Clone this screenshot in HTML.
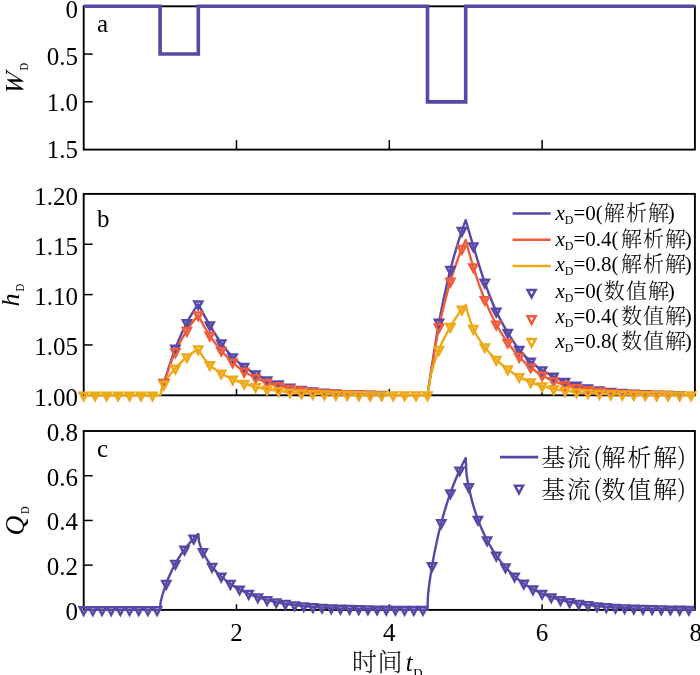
<!DOCTYPE html>
<html lang="zh"><head><meta charset="utf-8"><title>chart</title>
<style>html,body{margin:0;padding:0;background:#fff}svg{display:block}text{font-family:"Liberation Serif","Noto Serif CJK SC",serif;fill:#000}.tk{font-size:25px;text-anchor:end}.xt{font-size:25px;text-anchor:middle}.yl{font-size:26px;font-style:italic}.sub{font-size:14px;font-style:normal}.sd{font-size:13.5px}.lg{font-size:21px}.cj{font-size:21px;letter-spacing:1.1px;font-weight:300}.lc{font-size:24px}.cc{font-weight:300}.pp{font-family:"Noto Serif CJK SC",serif;font-weight:300}.pl{font-size:25px}</style></head><body>
<svg width="700" height="675" viewBox="0 0 700 675">
<rect width="700" height="675" fill="#fff"/>
<g stroke="#000" stroke-width="1.9" fill="none" stroke-linecap="square">
<rect x="83.7" y="6.3" width="611.2" height="143.3"/>
</g>
<g stroke="#000" stroke-width="1.5" fill="none">
<line x1="236.5" y1="149.6" x2="236.5" y2="140.1"/>
<line x1="389.3" y1="149.6" x2="389.3" y2="140.1"/>
<line x1="542.1" y1="149.6" x2="542.1" y2="140.1"/>
<line x1="83.7" y1="54.07" x2="92.7" y2="54.07"/>
<line x1="83.7" y1="101.83" x2="92.7" y2="101.83"/>
</g>
<path d="M83.7 6.3 L160.1 6.3 L160.1 54.07 L198.3 54.07 L198.3 6.3 L427.5 6.3 L427.5 101.83 L465.7 101.83 L465.7 6.3 L694.9 6.3" fill="none" stroke="#5848a6" stroke-width="3.6" stroke-linejoin="miter"/>
<text class="tk" x="78" y="17.85">0</text>
<text class="tk" x="78" y="64.75">0.5</text>
<text class="tk" x="78" y="110.95">1.0</text>
<text class="tk" x="78" y="158.15">1.5</text>
<text class="pl" x="97" y="32">a</text>
<text class="yl" transform="translate(23.1 95.2) rotate(-90) skewX(-9)">W</text>
<text class="sd" transform="translate(28.4 70.5) rotate(-90) scale(0.78 1)">D</text>
<g stroke="#000" stroke-width="1.9" fill="none" stroke-linecap="square">
<rect x="83.7" y="193.9" width="611.2" height="201.4"/>
</g>
<g stroke="#000" stroke-width="1.5" fill="none">
<line x1="236.5" y1="395.3" x2="236.5" y2="388.9"/>
<line x1="389.3" y1="395.3" x2="389.3" y2="388.9"/>
<line x1="542.1" y1="395.3" x2="542.1" y2="388.9"/>
<line x1="83.7" y1="244.25" x2="92.7" y2="244.25"/>
<line x1="83.7" y1="294.6" x2="92.7" y2="294.6"/>
<line x1="83.7" y1="344.95" x2="92.7" y2="344.95"/>
</g>
<path d="M161.63 390.17 L162.01 388.9 L162.39 387.64 L162.77 386.39 L163.16 385.15 L163.54 383.93 L163.92 382.71 L164.3 381.5 L164.68 380.3 L165.07 379.08 L165.45 377.87 L165.83 376.66 L166.21 375.46 L166.59 374.25 L166.98 373.04 L167.36 371.84 L167.74 370.65 L169.27 365.9 L170.8 361.28 L172.32 356.8 L173.85 352.52 L175.38 348.47 L176.91 344.62 L178.44 340.89 L179.96 337.28 L181.49 333.81 L183.02 330.48 L184.55 327.29 L186.08 324.26 L187.6 321.37 L189.13 318.58 L190.66 315.89 L192.19 313.3 L193.72 310.83 L195.24 308.47 L196.77 306.25 L198.3 304.17 L199.06 305.64 L199.83 307.11 L200.59 308.56 L201.36 310.01 L202.12 311.44 L202.88 312.86 L203.65 314.27 L204.41 315.67 L205.18 317.06 L205.94 318.44 L207.47 321.15 L209 323.8 L210.52 326.41 L212.05 328.98 L213.58 331.51 L215.11 333.99 L216.64 336.4 L218.16 338.73 L219.69 340.98 L221.22 343.14 L222.75 345.22 L224.28 347.26 L225.8 349.22 L227.33 351.12 L228.86 352.92 L230.39 354.64 L231.92 356.26 L233.44 357.78 L234.97 359.21 L236.5 360.56 L238.03 361.85 L239.56 363.08 L241.08 364.28 L242.61 365.45 L244.14 366.6 L245.67 367.73 L247.2 368.82 L248.72 369.89 L250.25 370.92 L251.78 371.92 L253.31 372.88 L254.84 373.8 L256.36 374.7 L257.89 375.56 L259.42 376.4 L260.95 377.21 L262.48 377.98 L264 378.72 L265.53 379.43 L267.06 380.09 L268.59 380.73 L270.12 381.32 L271.64 381.9 L273.17 382.44 L274.7 382.97 L276.23 383.48 L277.76 383.98 L279.28 384.46 L280.81 384.94 L282.34 385.39 L283.87 385.83 L285.4 386.26 L286.92 386.67 L288.45 387.06 L289.98 387.45 L291.51 387.78 L293.04 388.11 L294.56 388.42 L296.09 388.71 L297.62 389 L299.15 389.27 L300.68 389.53 L302.2 389.78 L303.73 390.01 L305.26 390.24 L306.79 390.46 L308.32 390.67 L309.84 390.87 L311.37 391.06 L312.9 391.24 L314.43 391.42 L315.96 391.58 L317.48 391.74 L319.01 391.9 L320.54 392.04 L322.07 392.18 L323.6 392.32 L325.12 392.44 L326.65 392.57 L328.18 392.69 L329.71 392.8 L331.24 392.91 L332.76 393.01 L334.29 393.11 L335.82 393.2 L337.35 393.29 L338.88 393.38 L340.4 393.46 L341.93 393.54 L343.46 393.62 L344.99 393.69 L346.52 393.76 L348.04 393.82 L349.57 393.89 L351.1 393.95 L352.63 394.01 L354.16 394.06 L355.68 394.12 L357.21 394.17 L358.74 394.22 L360.27 394.26 L361.8 394.31 L363.32 394.35 L364.85 394.39 L366.38 394.43 L367.91 394.47 L369.44 394.5 L370.96 394.54 L372.49 394.57 L374.02 394.6 L375.55 394.63 L377.08 394.66 L378.6 394.69 L380.13 394.71 L381.66 394.74 L383.19 394.76 L384.72 394.79 L386.24 394.81 L387.77 394.83 L389.3 394.85 M428.26 390.04 L428.65 387.49 L429.03 384.96 L429.41 382.43 L429.79 379.92 L430.17 377.41 L430.56 374.93 L430.94 372.45 L431.32 369.99 L431.7 367.53 L432.08 365.06 L432.47 362.57 L432.85 360.08 L433.23 357.59 L433.61 355.09 L433.99 352.61 L434.38 350.13 L434.76 347.66 L435.14 345.21 L436.67 335.66 L438.2 326.68 L439.72 318.45 L441.25 310.6 L442.78 303.07 L444.31 295.84 L445.84 288.9 L447.36 282.24 L448.89 275.86 L450.42 269.75 L451.95 263.89 L453.48 258.26 L455 252.85 L456.53 247.63 L458.06 242.6 L459.59 237.73 L461.12 233.01 L462.64 228.45 L464.17 224.19 L465.7 220.13 L466.46 222.76 L467.23 225.39 L467.99 228 L468.76 230.62 L469.52 233.22 L470.28 235.82 L471.05 238.4 L471.81 240.99 L472.58 243.56 L473.34 246.12 L474.87 251.24 L476.4 256.34 L477.92 261.37 L479.45 266.31 L480.98 271.13 L482.51 275.8 L484.04 280.3 L485.56 284.64 L487.09 288.87 L488.62 292.98 L490.15 296.96 L491.68 300.81 L493.2 304.5 L494.73 308.03 L496.26 311.4 L497.79 314.59 L499.32 317.63 L500.84 320.54 L502.37 323.34 L503.9 326.06 L505.43 328.7 L506.96 331.28 L508.48 333.81 L510.01 336.31 L511.54 338.75 L513.07 341.12 L514.6 343.39 L516.12 345.57 L517.65 347.63 L519.18 349.57 L520.71 351.4 L522.24 353.15 L523.76 354.81 L525.29 356.39 L526.82 357.91 L528.35 359.37 L529.88 360.77 L531.4 362.13 L532.93 363.44 L534.46 364.7 L535.99 365.91 L537.52 367.07 L539.04 368.17 L540.57 369.22 L542.1 370.22 L543.63 371.17 L545.16 372.07 L546.68 372.94 L548.21 373.76 L549.74 374.55 L551.27 375.3 L552.8 376.02 L554.32 376.78 L555.85 377.57 L557.38 378.34 L558.91 379.07 L560.44 379.77 L561.96 380.43 L563.49 381.07 L565.02 381.69 L566.55 382.27 L568.08 382.83 L569.6 383.37 L571.13 383.88 L572.66 384.38 L574.19 384.85 L575.72 385.3 L577.24 385.73 L578.77 386.14 L580.3 386.53 L581.83 386.91 L583.36 387.27 L584.88 387.62 L586.41 387.95 L587.94 388.26 L589.47 388.57 L591 388.86 L592.52 389.13 L594.05 389.4 L595.58 389.65 L597.11 389.9 L598.64 390.13 L600.16 390.35 L601.69 390.56 L603.22 390.77 L604.75 390.96 L606.28 391.15 L607.8 391.33 L609.33 391.5 L610.86 391.66 L612.39 391.82 L613.92 391.97 L615.44 392.11 L616.97 392.25 L618.5 392.38 L620.03 392.51 L621.56 392.63 L623.08 392.74 L624.61 392.85 L626.14 392.96 L627.67 393.06 L629.2 393.16 L630.72 393.25 L632.25 393.34 L633.78 393.42 L635.31 393.5 L636.84 393.58 L638.36 393.65 L639.89 393.72 L641.42 393.79 L642.95 393.86 L644.48 393.92 L646 393.98 L647.53 394.04 L649.06 394.09 L650.59 394.14 L652.12 394.19 L653.64 394.24 L655.17 394.28 L656.7 394.33 L658.23 394.37 L659.76 394.41 L661.28 394.45 L662.81 394.49 L664.34 394.52 L665.87 394.55 L667.4 394.59 L668.92 394.62 L670.45 394.65 L671.98 394.67 L673.51 394.7 L675.04 394.73 L676.56 394.75 L678.09 394.78 L679.62 394.8 L681.15 394.82 L682.68 394.84 L684.2 394.86 L685.73 394.88 L687.26 394.9" fill="none" stroke="#5848a6" stroke-width="2.4" stroke-linejoin="round"/>
<path d="M161.63 390.18 L162.01 388.92 L162.39 387.68 L162.77 386.46 L163.16 385.25 L163.54 384.07 L163.92 382.91 L164.3 381.77 L164.68 380.63 L165.07 379.49 L165.45 378.36 L165.83 377.23 L166.21 376.1 L166.59 374.98 L166.98 373.87 L167.36 372.76 L167.74 371.66 L169.27 367.33 L170.8 363.15 L172.32 359.17 L173.85 355.4 L175.38 351.9 L176.91 348.62 L178.44 345.49 L179.96 342.51 L181.49 339.66 L183.02 336.95 L184.55 334.35 L186.08 331.86 L187.6 329.46 L189.13 327.15 L190.66 324.91 L192.19 322.76 L193.72 320.7 L195.24 318.74 L196.77 316.89 L198.3 315.14 L199.06 316.7 L199.83 318.22 L200.59 319.71 L201.36 321.17 L202.12 322.61 L202.88 324.01 L203.65 325.39 L204.41 326.74 L205.18 328.07 L205.94 329.37 L207.47 331.89 L209 334.31 L210.52 336.63 L212.05 338.86 L213.58 340.99 L215.11 343.04 L216.64 345.02 L218.16 346.93 L219.69 348.79 L221.22 350.59 L222.75 352.34 L224.28 354.03 L225.8 355.67 L227.33 357.25 L228.86 358.77 L230.39 360.25 L231.92 361.68 L233.44 363.06 L234.97 364.4 L236.5 365.7 L238.03 366.95 L239.56 368.16 L241.08 369.31 L242.61 370.4 L244.14 371.43 L245.67 372.41 L247.2 373.33 L248.72 374.21 L250.25 375.05 L251.78 375.86 L253.31 376.64 L254.84 377.4 L256.36 378.15 L257.89 378.88 L259.42 379.59 L260.95 380.27 L262.48 380.93 L264 381.56 L265.53 382.15 L267.06 382.71 L268.59 383.24 L270.12 383.74 L271.64 384.22 L273.17 384.68 L274.7 385.12 L276.23 385.54 L277.76 385.94 L279.28 386.33 L280.81 386.7 L282.34 387.06 L283.87 387.41 L285.4 387.74 L286.92 388.06 L288.45 388.36 L289.98 388.65 L291.51 388.94 L293.04 389.21 L294.56 389.48 L296.09 389.73 L297.62 389.97 L299.15 390.2 L300.68 390.42 L302.2 390.63 L303.73 390.83 L305.26 391.02 L306.79 391.2 L308.32 391.38 L309.84 391.55 L311.37 391.71 L312.9 391.86 L314.43 392.01 L315.96 392.15 L317.48 392.29 L319.01 392.42 L320.54 392.54 L322.07 392.66 L323.6 392.78 L325.12 392.88 L326.65 392.99 L328.18 393.09 L329.71 393.18 L331.24 393.27 L332.76 393.36 L334.29 393.44 L335.82 393.52 L337.35 393.6 L338.88 393.67 L340.4 393.74 L341.93 393.81 L343.46 393.88 L344.99 393.94 L346.52 394 L348.04 394.05 L349.57 394.11 L351.1 394.16 L352.63 394.21 L354.16 394.25 L355.68 394.3 L357.21 394.34 L358.74 394.38 L360.27 394.42 L361.8 394.46 L363.32 394.5 L364.85 394.53 L366.38 394.56 L367.91 394.6 L369.44 394.63 L370.96 394.65 L372.49 394.68 L374.02 394.71 L375.55 394.73 L377.08 394.76 L378.6 394.78 L380.13 394.8 M428.26 390.04 L428.65 387.49 L429.03 384.97 L429.41 382.47 L429.79 380 L430.17 377.55 L430.56 375.14 L430.94 372.76 L431.32 370.41 L431.7 368.09 L432.08 365.77 L432.47 363.45 L432.85 361.13 L433.23 358.83 L433.61 356.53 L433.99 354.26 L434.38 352 L434.76 349.75 L435.14 347.54 L436.67 338.95 L438.2 330.96 L439.72 323.66 L441.25 316.75 L442.78 310.16 L444.31 303.86 L445.84 297.86 L447.36 292.13 L448.89 286.66 L450.42 281.44 L451.95 276.46 L453.48 271.7 L455 267.14 L456.53 262.76 L458.06 258.55 L459.59 254.49 L461.12 250.56 L462.64 246.76 L464.17 243.23 L465.7 239.88 L466.46 242.82 L467.23 245.7 L467.99 248.54 L468.76 251.33 L469.52 254.07 L470.28 256.76 L471.05 259.41 L471.81 262.01 L472.58 264.56 L473.34 267.08 L474.87 271.97 L476.4 276.71 L477.92 281.27 L479.45 285.68 L480.98 289.92 L482.51 293.99 L484.04 297.91 L485.56 301.67 L487.09 305.29 L488.62 308.77 L490.15 312.12 L491.68 315.34 L493.2 318.44 L494.73 321.42 L496.26 324.29 L497.79 327.05 L499.32 329.69 L500.84 332.23 L502.37 334.68 L503.9 337.05 L505.43 339.33 L506.96 341.54 L508.48 343.68 L510.01 345.75 L511.54 347.76 L513.07 349.69 L514.6 351.55 L516.12 353.34 L517.65 355.06 L519.18 356.72 L520.71 358.31 L522.24 359.84 L523.76 361.31 L525.29 362.73 L526.82 364.09 L528.35 365.41 L529.88 366.68 L531.4 367.91 L532.93 369.1 L534.46 370.24 L535.99 371.34 L537.52 372.4 L539.04 373.43 L540.57 374.41 L542.1 375.36 L543.63 376.22 L545.16 377.04 L546.68 377.82 L548.21 378.58 L549.74 379.3 L551.27 379.98 L552.8 380.64 L554.32 381.27 L555.85 381.88 L557.38 382.46 L558.91 383.01 L560.44 383.54 L561.96 384.04 L563.49 384.53 L565.02 384.99 L566.55 385.44 L568.08 385.86 L569.6 386.27 L571.13 386.66 L572.66 387.03 L574.19 387.38 L575.72 387.72 L577.24 388.05 L578.77 388.36 L580.3 388.66 L581.83 388.95 L583.36 389.22 L584.88 389.48 L586.41 389.73 L587.94 389.97 L589.47 390.2 L591 390.42 L592.52 390.63 L594.05 390.83 L595.58 391.02 L597.11 391.21 L598.64 391.38 L600.16 391.55 L601.69 391.71 L603.22 391.87 L604.75 392.02 L606.28 392.16 L607.8 392.29 L609.33 392.42 L610.86 392.55 L612.39 392.66 L613.92 392.78 L615.44 392.89 L616.97 392.99 L618.5 393.09 L620.03 393.19 L621.56 393.28 L623.08 393.36 L624.61 393.45 L626.14 393.53 L627.67 393.6 L629.2 393.68 L630.72 393.75 L632.25 393.81 L633.78 393.88 L635.31 393.94 L636.84 394 L638.36 394.05 L639.89 394.11 L641.42 394.16 L642.95 394.21 L644.48 394.25 L646 394.3 L647.53 394.34 L649.06 394.38 L650.59 394.42 L652.12 394.46 L653.64 394.5 L655.17 394.53 L656.7 394.56 L658.23 394.6 L659.76 394.63 L661.28 394.66 L662.81 394.68 L664.34 394.71 L665.87 394.74 L667.4 394.76 L668.92 394.78 L670.45 394.8 L671.98 394.83" fill="none" stroke="#f05c3a" stroke-width="2.4" stroke-linejoin="round"/>
<path d="M83.7 395.3 L85.23 395.3 L86.76 395.3 L88.28 395.3 L89.81 395.3 L91.34 395.3 L92.87 395.3 L94.4 395.3 L95.92 395.3 L97.45 395.3 L98.98 395.3 L100.51 395.3 L102.04 395.3 L103.56 395.3 L105.09 395.3 L106.62 395.3 L108.15 395.3 L109.68 395.3 L111.2 395.3 L112.73 395.3 L114.26 395.3 L115.79 395.3 L117.32 395.3 L118.84 395.3 L120.37 395.3 L121.9 395.3 L123.43 395.3 L124.96 395.3 L126.48 395.3 L128.01 395.3 L129.54 395.3 L131.07 395.3 L132.6 395.3 L134.12 395.3 L135.65 395.3 L137.18 395.3 L138.71 395.3 L140.24 395.3 L141.76 395.3 L143.29 395.3 L144.82 395.3 L146.35 395.3 L147.88 395.3 L149.4 395.3 L150.93 395.3 L152.46 395.3 L153.99 395.3 L155.52 395.3 L157.04 395.3 L158.57 395.3 L160.1 395.3 L160.48 394.07 L160.86 392.84 L161.25 391.63 L161.63 390.44 L162.01 389.28 L162.39 388.17 L162.77 387.12 L163.16 386.13 L163.54 385.23 L163.92 384.42 L164.3 383.68 L164.68 382.95 L165.07 382.25 L165.45 381.57 L165.83 380.91 L166.21 380.27 L166.59 379.65 L166.98 379.04 L167.36 378.46 L167.74 377.88 L169.27 375.74 L170.8 373.78 L172.32 371.94 L173.85 370.17 L175.38 368.41 L176.91 366.67 L178.44 364.99 L179.96 363.38 L181.49 361.84 L183.02 360.38 L184.55 358.98 L186.08 357.66 L187.6 356.42 L189.13 355.22 L190.66 354.07 L192.19 352.97 L193.72 351.93 L195.24 350.95 L196.77 350.03 L198.3 349.18 L199.06 350.57 L199.83 351.9 L200.59 353.18 L201.36 354.4 L202.12 355.58 L202.88 356.7 L203.65 357.77 L204.41 358.81 L205.18 359.79 L205.94 360.74 L207.47 362.51 L209 364.13 L210.52 365.61 L212.05 366.96 L213.58 368.19 L215.11 369.33 L216.64 370.4 L218.16 371.42 L219.69 372.4 L221.22 373.35 L222.75 374.26 L224.28 375.13 L225.8 375.97 L227.33 376.76 L228.86 377.52 L230.39 378.25 L231.92 378.95 L233.44 379.62 L234.97 380.27 L236.5 380.88 L238.03 381.47 L239.56 382.04 L241.08 382.59 L242.61 383.11 L244.14 383.62 L245.67 384.1 L247.2 384.57 L248.72 385.01 L250.25 385.44 L251.78 385.86 L253.31 386.26 L254.84 386.65 L256.36 387.03 L257.89 387.41 L259.42 387.78 L260.95 388.14 L262.48 388.48 L264 388.8 L265.53 389.09 L267.06 389.36 L268.59 389.6 L270.12 389.82 L271.64 390.02 L273.17 390.21 L274.7 390.4 L276.23 390.58 L277.76 390.77 L279.28 390.97 L280.81 391.16 L282.34 391.36 L283.87 391.55 L285.4 391.74 L286.92 391.92 L288.45 392.1 L289.98 392.28 L291.51 392.41 L293.04 392.54 L294.56 392.67 L296.09 392.79 L297.62 392.9 L299.15 393.01 L300.68 393.11 L302.2 393.21 L303.73 393.3 L305.26 393.39 L306.79 393.48 L308.32 393.56 L309.84 393.64 L311.37 393.71 L312.9 393.78 L314.43 393.85 L315.96 393.92 L317.48 393.98 L319.01 394.04 L320.54 394.1 L322.07 394.15 L323.6 394.2 L325.12 394.25 L326.65 394.3 L328.18 394.34 L329.71 394.39 L331.24 394.43 L332.76 394.47 L334.29 394.5 L335.82 394.54 L337.35 394.57 L338.88 394.61 L340.4 394.64 L341.93 394.67 L343.46 394.7 L344.99 394.72 L346.52 394.75 L348.04 394.77 L349.57 394.8 L351.1 394.82 L352.63 394.84 L354.16 394.86 L355.68 394.88 L357.21 394.9 L358.74 394.92 L360.27 394.94 L361.8 394.95 L363.32 394.97 L364.85 394.98 L366.38 395 L367.91 395.01 L369.44 395.02 L370.96 395.04 L372.49 395.05 L374.02 395.06 L375.55 395.07 L377.08 395.08 L378.6 395.09 L380.13 395.1 L381.66 395.11 L383.19 395.12 L384.72 395.13 L386.24 395.13 L387.77 395.14 L389.3 395.15 L390.83 395.15 L392.36 395.16 L393.88 395.17 L395.41 395.17 L396.94 395.18 L398.47 395.18 L400 395.19 L401.52 395.19 L403.05 395.2 L404.58 395.2 L406.11 395.21 L407.64 395.21 L409.16 395.22 L410.69 395.22 L412.22 395.22 L413.75 395.23 L415.28 395.23 L416.8 395.23 L418.33 395.24 L419.86 395.24 L421.39 395.24 L422.92 395.24 L424.44 395.25 L425.97 395.25 L427.5 395.25 L427.88 392.76 L428.26 390.29 L428.65 387.88 L429.03 385.52 L429.41 383.23 L429.79 381.04 L430.17 378.96 L430.56 377 L430.94 375.18 L431.32 373.51 L431.7 371.95 L432.08 370.44 L432.47 368.98 L432.85 367.58 L433.23 366.21 L433.61 364.9 L433.99 363.62 L434.38 362.39 L434.76 361.19 L435.14 360.02 L436.67 355.66 L438.2 351.66 L439.72 347.89 L441.25 344.35 L442.78 341.03 L444.31 337.9 L445.84 334.93 L447.36 332.1 L448.89 329.36 L450.42 326.7 L451.95 324.1 L453.48 321.59 L455 319.17 L456.53 316.83 L458.06 314.59 L459.59 312.44 L461.12 310.38 L462.64 308.43 L464.17 306.63 L465.7 304.96 L466.46 307.97 L467.23 310.84 L467.99 313.56 L468.76 316.14 L469.52 318.58 L470.28 320.88 L471.05 323.04 L471.81 325.07 L472.58 326.96 L473.34 328.73 L474.87 331.92 L476.4 334.76 L477.92 337.34 L479.45 339.7 L480.98 341.91 L482.51 344.01 L484.04 346.05 L485.56 348.04 L487.09 349.94 L488.62 351.73 L490.15 353.43 L491.68 355.07 L493.2 356.64 L494.73 358.17 L496.26 359.65 L497.79 361.07 L499.32 362.44 L500.84 363.76 L502.37 365.04 L503.9 366.27 L505.43 367.47 L506.96 368.64 L508.48 369.79 L510.01 370.91 L511.54 372.01 L513.07 373.08 L514.6 374.1 L516.12 375.08 L517.65 376 L519.18 376.87 L520.71 377.68 L522.24 378.44 L523.76 379.16 L525.29 379.85 L526.82 380.52 L528.35 381.16 L529.88 381.79 L531.4 382.41 L532.93 383.02 L534.46 383.6 L535.99 384.17 L537.52 384.71 L539.04 385.24 L540.57 385.75 L542.1 386.24 L543.63 386.64 L545.16 387.03 L546.68 387.4 L548.21 387.76 L549.74 388.1 L551.27 388.42 L552.8 388.73 L554.32 389.03 L555.85 389.31 L557.38 389.58 L558.91 389.83 L560.44 390.08 L561.96 390.32 L563.49 390.54 L565.02 390.75 L566.55 390.96 L568.08 391.15 L569.6 391.34 L571.13 391.52 L572.66 391.69 L574.19 391.85 L575.72 392.01 L577.24 392.15 L578.77 392.29 L580.3 392.43 L581.83 392.56 L583.36 392.68 L584.88 392.8 L586.41 392.91 L587.94 393.02 L589.47 393.12 L591 393.22 L592.52 393.31 L594.05 393.4 L595.58 393.49 L597.11 393.57 L598.64 393.65 L600.16 393.72 L601.69 393.79 L603.22 393.86 L604.75 393.93 L606.28 393.99 L607.8 394.05 L609.33 394.1 L610.86 394.16 L612.39 394.21 L613.92 394.26 L615.44 394.3 L616.97 394.35 L618.5 394.39 L620.03 394.43 L621.56 394.47 L623.08 394.51 L624.61 394.54 L626.14 394.58 L627.67 394.61 L629.2 394.64 L630.72 394.67 L632.25 394.7 L633.78 394.73 L635.31 394.75 L636.84 394.78 L638.36 394.8 L639.89 394.82 L641.42 394.84 L642.95 394.86 L644.48 394.88 L646 394.9 L647.53 394.92 L649.06 394.94 L650.59 394.95 L652.12 394.97 L653.64 394.98 L655.17 395 L656.7 395.01 L658.23 395.03 L659.76 395.04 L661.28 395.05 L662.81 395.06 L664.34 395.07 L665.87 395.08 L667.4 395.09 L668.92 395.1 L670.45 395.11 L671.98 395.12 L673.51 395.13 L675.04 395.13 L676.56 395.14 L678.09 395.15 L679.62 395.16 L681.15 395.16 L682.68 395.17 L684.2 395.17 L685.73 395.18 L687.26 395.19 L688.79 395.19 L690.32 395.2 L691.84 395.2 L693.37 395.2 L694.9 395.21" fill="none" stroke="#eda918" stroke-width="2.4" stroke-linejoin="round"/>
<g>
<path d="M159.91 380.06H167.93L163.92 387.56Z" fill="none" stroke="#5848a6" stroke-width="2.5" stroke-linejoin="miter"/>
<path d="M171.37 345.82H179.39L175.38 353.33Z" fill="none" stroke="#5848a6" stroke-width="2.5" stroke-linejoin="miter"/>
<path d="M182.83 320.15H190.85L186.84 327.65Z" fill="none" stroke="#5848a6" stroke-width="2.5" stroke-linejoin="miter"/>
<path d="M194.29 301.52H202.31L198.3 309.02Z" fill="none" stroke="#5848a6" stroke-width="2.5" stroke-linejoin="miter"/>
<path d="M205.75 322.46H213.77L209.76 329.96Z" fill="none" stroke="#5848a6" stroke-width="2.5" stroke-linejoin="miter"/>
<path d="M217.21 340.49H225.23L221.22 347.99Z" fill="none" stroke="#5848a6" stroke-width="2.5" stroke-linejoin="miter"/>
<path d="M228.67 354.38H236.69L232.68 361.88Z" fill="none" stroke="#5848a6" stroke-width="2.5" stroke-linejoin="miter"/>
<path d="M240.13 363.95H248.15L244.14 371.45Z" fill="none" stroke="#5848a6" stroke-width="2.5" stroke-linejoin="miter"/>
<path d="M251.59 371.6H259.61L255.6 379.1Z" fill="none" stroke="#5848a6" stroke-width="2.5" stroke-linejoin="miter"/>
<path d="M263.05 377.44H271.07L267.06 384.94Z" fill="none" stroke="#5848a6" stroke-width="2.5" stroke-linejoin="miter"/>
<path d="M274.51 381.57H282.53L278.52 389.07Z" fill="none" stroke="#5848a6" stroke-width="2.5" stroke-linejoin="miter"/>
<path d="M285.97 384.8H293.99L289.98 392.3Z" fill="none" stroke="#5848a6" stroke-width="2.5" stroke-linejoin="miter"/>
<path d="M297.43 387H305.45L301.44 394.5Z" fill="none" stroke="#5848a6" stroke-width="2.5" stroke-linejoin="miter"/>
<path d="M308.89 388.59H316.91L312.9 396.09Z" fill="none" stroke="#5848a6" stroke-width="2.5" stroke-linejoin="miter"/>
<path d="M320.35 389.73H328.37L324.36 397.23Z" fill="none" stroke="#5848a6" stroke-width="2.5" stroke-linejoin="miter"/>
<path d="M331.81 390.55H339.83L335.82 398.05Z" fill="none" stroke="#5848a6" stroke-width="2.5" stroke-linejoin="miter"/>
<path d="M343.27 391.14H351.29L347.28 398.64Z" fill="none" stroke="#5848a6" stroke-width="2.5" stroke-linejoin="miter"/>
<path d="M354.73 391.57H362.75L358.74 399.07Z" fill="none" stroke="#5848a6" stroke-width="2.5" stroke-linejoin="miter"/>
<path d="M366.19 391.87H374.21L370.2 399.37Z" fill="none" stroke="#5848a6" stroke-width="2.5" stroke-linejoin="miter"/>
<path d="M377.65 392.09H385.67L381.66 399.59Z" fill="none" stroke="#5848a6" stroke-width="2.5" stroke-linejoin="miter"/>
<path d="M434.95 319.84H442.97L438.96 327.34Z" fill="none" stroke="#5848a6" stroke-width="2.5" stroke-linejoin="miter"/>
<path d="M446.41 267.1H454.43L450.42 274.6Z" fill="none" stroke="#5848a6" stroke-width="2.5" stroke-linejoin="miter"/>
<path d="M457.87 228.05H465.89L461.88 235.55Z" fill="none" stroke="#5848a6" stroke-width="2.5" stroke-linejoin="miter"/>
<path d="M469.33 243.47H477.35L473.34 250.97Z" fill="none" stroke="#5848a6" stroke-width="2.5" stroke-linejoin="miter"/>
<path d="M480.79 279.84H488.81L484.8 287.34Z" fill="none" stroke="#5848a6" stroke-width="2.5" stroke-linejoin="miter"/>
<path d="M492.25 308.75H500.27L496.26 316.25Z" fill="none" stroke="#5848a6" stroke-width="2.5" stroke-linejoin="miter"/>
<path d="M503.71 329.9H511.73L507.72 337.4Z" fill="none" stroke="#5848a6" stroke-width="2.5" stroke-linejoin="miter"/>
<path d="M515.17 346.92H523.19L519.18 354.42Z" fill="none" stroke="#5848a6" stroke-width="2.5" stroke-linejoin="miter"/>
<path d="M526.63 358.81H534.65L530.64 366.31Z" fill="none" stroke="#5848a6" stroke-width="2.5" stroke-linejoin="miter"/>
<path d="M538.09 367.57H546.11L542.1 375.07Z" fill="none" stroke="#5848a6" stroke-width="2.5" stroke-linejoin="miter"/>
<path d="M549.55 373.71H557.57L553.56 381.21Z" fill="none" stroke="#5848a6" stroke-width="2.5" stroke-linejoin="miter"/>
<path d="M561.01 379.04H569.03L565.02 386.54Z" fill="none" stroke="#5848a6" stroke-width="2.5" stroke-linejoin="miter"/>
<path d="M572.47 382.86H580.49L576.48 390.36Z" fill="none" stroke="#5848a6" stroke-width="2.5" stroke-linejoin="miter"/>
<path d="M583.93 385.61H591.95L587.94 393.11Z" fill="none" stroke="#5848a6" stroke-width="2.5" stroke-linejoin="miter"/>
<path d="M595.39 387.59H603.41L599.4 395.09Z" fill="none" stroke="#5848a6" stroke-width="2.5" stroke-linejoin="miter"/>
<path d="M606.85 389.01H614.87L610.86 396.51Z" fill="none" stroke="#5848a6" stroke-width="2.5" stroke-linejoin="miter"/>
<path d="M618.31 390.04H626.33L622.32 397.54Z" fill="none" stroke="#5848a6" stroke-width="2.5" stroke-linejoin="miter"/>
<path d="M629.77 390.77H637.79L633.78 398.27Z" fill="none" stroke="#5848a6" stroke-width="2.5" stroke-linejoin="miter"/>
<path d="M641.23 391.3H649.25L645.24 398.8Z" fill="none" stroke="#5848a6" stroke-width="2.5" stroke-linejoin="miter"/>
<path d="M652.69 391.68H660.71L656.7 399.18Z" fill="none" stroke="#5848a6" stroke-width="2.5" stroke-linejoin="miter"/>
<path d="M664.15 391.95H672.17L668.16 399.45Z" fill="none" stroke="#5848a6" stroke-width="2.5" stroke-linejoin="miter"/>
<path d="M675.61 392.15H683.63L679.62 399.65Z" fill="none" stroke="#5848a6" stroke-width="2.5" stroke-linejoin="miter"/>
</g>
<g>
<path d="M159.91 380.26H167.93L163.92 387.76Z" fill="none" stroke="#f05c3a" stroke-width="2.5" stroke-linejoin="miter"/>
<path d="M171.37 349.25H179.39L175.38 356.75Z" fill="none" stroke="#f05c3a" stroke-width="2.5" stroke-linejoin="miter"/>
<path d="M182.83 328H190.85L186.84 335.5Z" fill="none" stroke="#f05c3a" stroke-width="2.5" stroke-linejoin="miter"/>
<path d="M194.29 312.49H202.31L198.3 319.99Z" fill="none" stroke="#f05c3a" stroke-width="2.5" stroke-linejoin="miter"/>
<path d="M205.75 332.83H213.77L209.76 340.33Z" fill="none" stroke="#f05c3a" stroke-width="2.5" stroke-linejoin="miter"/>
<path d="M217.21 347.94H225.23L221.22 355.44Z" fill="none" stroke="#f05c3a" stroke-width="2.5" stroke-linejoin="miter"/>
<path d="M228.67 359.72H236.69L232.68 367.22Z" fill="none" stroke="#f05c3a" stroke-width="2.5" stroke-linejoin="miter"/>
<path d="M240.13 368.78H248.15L244.14 376.28Z" fill="none" stroke="#f05c3a" stroke-width="2.5" stroke-linejoin="miter"/>
<path d="M251.59 375.13H259.61L255.6 382.63Z" fill="none" stroke="#f05c3a" stroke-width="2.5" stroke-linejoin="miter"/>
<path d="M263.05 380.06H271.07L267.06 387.56Z" fill="none" stroke="#f05c3a" stroke-width="2.5" stroke-linejoin="miter"/>
<path d="M274.51 383.49H282.53L278.52 390.99Z" fill="none" stroke="#f05c3a" stroke-width="2.5" stroke-linejoin="miter"/>
<path d="M285.97 386H293.99L289.98 393.5Z" fill="none" stroke="#f05c3a" stroke-width="2.5" stroke-linejoin="miter"/>
<path d="M297.43 387.87H305.45L301.44 395.37Z" fill="none" stroke="#f05c3a" stroke-width="2.5" stroke-linejoin="miter"/>
<path d="M308.89 389.21H316.91L312.9 396.72Z" fill="none" stroke="#f05c3a" stroke-width="2.5" stroke-linejoin="miter"/>
<path d="M320.35 390.18H328.37L324.36 397.68Z" fill="none" stroke="#f05c3a" stroke-width="2.5" stroke-linejoin="miter"/>
<path d="M331.81 390.87H339.83L335.82 398.38Z" fill="none" stroke="#f05c3a" stroke-width="2.5" stroke-linejoin="miter"/>
<path d="M343.27 391.37H351.29L347.28 398.87Z" fill="none" stroke="#f05c3a" stroke-width="2.5" stroke-linejoin="miter"/>
<path d="M354.73 391.73H362.75L358.74 399.23Z" fill="none" stroke="#f05c3a" stroke-width="2.5" stroke-linejoin="miter"/>
<path d="M366.19 391.99H374.21L370.2 399.49Z" fill="none" stroke="#f05c3a" stroke-width="2.5" stroke-linejoin="miter"/>
<path d="M434.95 324.59H442.97L438.96 332.09Z" fill="none" stroke="#f05c3a" stroke-width="2.5" stroke-linejoin="miter"/>
<path d="M446.41 278.79H454.43L450.42 286.29Z" fill="none" stroke="#f05c3a" stroke-width="2.5" stroke-linejoin="miter"/>
<path d="M457.87 245.98H465.89L461.88 253.48Z" fill="none" stroke="#f05c3a" stroke-width="2.5" stroke-linejoin="miter"/>
<path d="M469.33 264.43H477.35L473.34 271.93Z" fill="none" stroke="#f05c3a" stroke-width="2.5" stroke-linejoin="miter"/>
<path d="M480.79 297.16H488.81L484.8 304.66Z" fill="none" stroke="#f05c3a" stroke-width="2.5" stroke-linejoin="miter"/>
<path d="M492.25 321.64H500.27L496.26 329.14Z" fill="none" stroke="#f05c3a" stroke-width="2.5" stroke-linejoin="miter"/>
<path d="M503.71 339.97H511.73L507.72 347.47Z" fill="none" stroke="#f05c3a" stroke-width="2.5" stroke-linejoin="miter"/>
<path d="M515.17 354.07H523.19L519.18 361.57Z" fill="none" stroke="#f05c3a" stroke-width="2.5" stroke-linejoin="miter"/>
<path d="M526.63 364.65H534.65L530.64 372.15Z" fill="none" stroke="#f05c3a" stroke-width="2.5" stroke-linejoin="miter"/>
<path d="M538.09 372.71H546.11L542.1 380.21Z" fill="none" stroke="#f05c3a" stroke-width="2.5" stroke-linejoin="miter"/>
<path d="M549.55 378.31H557.57L553.56 385.81Z" fill="none" stroke="#f05c3a" stroke-width="2.5" stroke-linejoin="miter"/>
<path d="M561.01 382.34H569.03L565.02 389.84Z" fill="none" stroke="#f05c3a" stroke-width="2.5" stroke-linejoin="miter"/>
<path d="M572.47 385.24H580.49L576.48 392.74Z" fill="none" stroke="#f05c3a" stroke-width="2.5" stroke-linejoin="miter"/>
<path d="M583.93 387.32H591.95L587.94 394.82Z" fill="none" stroke="#f05c3a" stroke-width="2.5" stroke-linejoin="miter"/>
<path d="M595.39 388.82H603.41L599.4 396.32Z" fill="none" stroke="#f05c3a" stroke-width="2.5" stroke-linejoin="miter"/>
<path d="M606.85 389.9H614.87L610.86 397.4Z" fill="none" stroke="#f05c3a" stroke-width="2.5" stroke-linejoin="miter"/>
<path d="M618.31 390.67H626.33L622.32 398.17Z" fill="none" stroke="#f05c3a" stroke-width="2.5" stroke-linejoin="miter"/>
<path d="M629.77 391.23H637.79L633.78 398.73Z" fill="none" stroke="#f05c3a" stroke-width="2.5" stroke-linejoin="miter"/>
<path d="M641.23 391.63H649.25L645.24 399.13Z" fill="none" stroke="#f05c3a" stroke-width="2.5" stroke-linejoin="miter"/>
<path d="M652.69 391.91H660.71L656.7 399.41Z" fill="none" stroke="#f05c3a" stroke-width="2.5" stroke-linejoin="miter"/>
<path d="M664.15 392.12H672.17L668.16 399.62Z" fill="none" stroke="#f05c3a" stroke-width="2.5" stroke-linejoin="miter"/>
</g>
<g>
<path d="M79.69 392.65H87.71L83.7 400.15Z" fill="none" stroke="#eda918" stroke-width="2.5" stroke-linejoin="miter"/>
<path d="M91.15 392.65H99.17L95.16 400.15Z" fill="none" stroke="#eda918" stroke-width="2.5" stroke-linejoin="miter"/>
<path d="M102.61 392.65H110.63L106.62 400.15Z" fill="none" stroke="#eda918" stroke-width="2.5" stroke-linejoin="miter"/>
<path d="M114.07 392.65H122.09L118.08 400.15Z" fill="none" stroke="#eda918" stroke-width="2.5" stroke-linejoin="miter"/>
<path d="M125.53 392.65H133.55L129.54 400.15Z" fill="none" stroke="#eda918" stroke-width="2.5" stroke-linejoin="miter"/>
<path d="M136.99 392.65H145.01L141 400.15Z" fill="none" stroke="#eda918" stroke-width="2.5" stroke-linejoin="miter"/>
<path d="M148.45 392.65H156.47L152.46 400.15Z" fill="none" stroke="#eda918" stroke-width="2.5" stroke-linejoin="miter"/>
<path d="M159.91 381.77H167.93L163.92 389.27Z" fill="none" stroke="#eda918" stroke-width="2.5" stroke-linejoin="miter"/>
<path d="M171.37 365.76H179.39L175.38 373.26Z" fill="none" stroke="#eda918" stroke-width="2.5" stroke-linejoin="miter"/>
<path d="M182.83 354.38H190.85L186.84 361.88Z" fill="none" stroke="#eda918" stroke-width="2.5" stroke-linejoin="miter"/>
<path d="M194.29 346.53H202.31L198.3 354.03Z" fill="none" stroke="#eda918" stroke-width="2.5" stroke-linejoin="miter"/>
<path d="M205.75 362.24H213.77L209.76 369.74Z" fill="none" stroke="#eda918" stroke-width="2.5" stroke-linejoin="miter"/>
<path d="M217.21 370.7H225.23L221.22 378.2Z" fill="none" stroke="#eda918" stroke-width="2.5" stroke-linejoin="miter"/>
<path d="M228.67 376.64H236.69L232.68 384.14Z" fill="none" stroke="#eda918" stroke-width="2.5" stroke-linejoin="miter"/>
<path d="M240.13 380.97H248.15L244.14 388.47Z" fill="none" stroke="#eda918" stroke-width="2.5" stroke-linejoin="miter"/>
<path d="M251.59 384.19H259.61L255.6 391.69Z" fill="none" stroke="#eda918" stroke-width="2.5" stroke-linejoin="miter"/>
<path d="M263.05 386.71H271.07L267.06 394.21Z" fill="none" stroke="#eda918" stroke-width="2.5" stroke-linejoin="miter"/>
<path d="M274.51 388.22H282.53L278.52 395.72Z" fill="none" stroke="#eda918" stroke-width="2.5" stroke-linejoin="miter"/>
<path d="M285.97 389.63H293.99L289.98 397.13Z" fill="none" stroke="#eda918" stroke-width="2.5" stroke-linejoin="miter"/>
<path d="M297.43 390.51H305.45L301.44 398.01Z" fill="none" stroke="#eda918" stroke-width="2.5" stroke-linejoin="miter"/>
<path d="M308.89 391.13H316.91L312.9 398.64Z" fill="none" stroke="#eda918" stroke-width="2.5" stroke-linejoin="miter"/>
<path d="M320.35 391.58H328.37L324.36 399.08Z" fill="none" stroke="#eda918" stroke-width="2.5" stroke-linejoin="miter"/>
<path d="M331.81 391.89H339.83L335.82 399.39Z" fill="none" stroke="#eda918" stroke-width="2.5" stroke-linejoin="miter"/>
<path d="M343.27 392.11H351.29L347.28 399.61Z" fill="none" stroke="#eda918" stroke-width="2.5" stroke-linejoin="miter"/>
<path d="M354.73 392.27H362.75L358.74 399.77Z" fill="none" stroke="#eda918" stroke-width="2.5" stroke-linejoin="miter"/>
<path d="M366.19 392.38H374.21L370.2 399.88Z" fill="none" stroke="#eda918" stroke-width="2.5" stroke-linejoin="miter"/>
<path d="M377.65 392.46H385.67L381.66 399.96Z" fill="none" stroke="#eda918" stroke-width="2.5" stroke-linejoin="miter"/>
<path d="M389.11 392.51H397.13L393.12 400.02Z" fill="none" stroke="#eda918" stroke-width="2.5" stroke-linejoin="miter"/>
<path d="M400.57 392.55H408.59L404.58 400.05Z" fill="none" stroke="#eda918" stroke-width="2.5" stroke-linejoin="miter"/>
<path d="M412.03 392.58H420.05L416.04 400.08Z" fill="none" stroke="#eda918" stroke-width="2.5" stroke-linejoin="miter"/>
<path d="M423.49 392.6H431.51L427.5 400.1Z" fill="none" stroke="#eda918" stroke-width="2.5" stroke-linejoin="miter"/>
<path d="M434.95 347.1H442.97L438.96 354.6Z" fill="none" stroke="#eda918" stroke-width="2.5" stroke-linejoin="miter"/>
<path d="M446.41 324.05H454.43L450.42 331.55Z" fill="none" stroke="#eda918" stroke-width="2.5" stroke-linejoin="miter"/>
<path d="M457.87 306.74H465.89L461.88 314.24Z" fill="none" stroke="#eda918" stroke-width="2.5" stroke-linejoin="miter"/>
<path d="M469.33 326.08H477.35L473.34 333.58Z" fill="none" stroke="#eda918" stroke-width="2.5" stroke-linejoin="miter"/>
<path d="M480.79 344.41H488.81L484.8 351.91Z" fill="none" stroke="#eda918" stroke-width="2.5" stroke-linejoin="miter"/>
<path d="M492.25 357H500.27L496.26 364.5Z" fill="none" stroke="#eda918" stroke-width="2.5" stroke-linejoin="miter"/>
<path d="M503.71 366.56H511.73L507.72 374.06Z" fill="none" stroke="#eda918" stroke-width="2.5" stroke-linejoin="miter"/>
<path d="M515.17 374.22H523.19L519.18 381.72Z" fill="none" stroke="#eda918" stroke-width="2.5" stroke-linejoin="miter"/>
<path d="M526.63 379.46H534.65L530.64 386.96Z" fill="none" stroke="#eda918" stroke-width="2.5" stroke-linejoin="miter"/>
<path d="M538.09 383.59H546.11L542.1 391.09Z" fill="none" stroke="#eda918" stroke-width="2.5" stroke-linejoin="miter"/>
<path d="M549.55 386.23H557.57L553.56 393.73Z" fill="none" stroke="#eda918" stroke-width="2.5" stroke-linejoin="miter"/>
<path d="M561.01 388.1H569.03L565.02 395.6Z" fill="none" stroke="#eda918" stroke-width="2.5" stroke-linejoin="miter"/>
<path d="M572.47 389.43H580.49L576.48 396.93Z" fill="none" stroke="#eda918" stroke-width="2.5" stroke-linejoin="miter"/>
<path d="M583.93 390.37H591.95L587.94 397.87Z" fill="none" stroke="#eda918" stroke-width="2.5" stroke-linejoin="miter"/>
<path d="M595.39 391.03H603.41L599.4 398.54Z" fill="none" stroke="#eda918" stroke-width="2.5" stroke-linejoin="miter"/>
<path d="M606.85 391.51H614.87L610.86 399.01Z" fill="none" stroke="#eda918" stroke-width="2.5" stroke-linejoin="miter"/>
<path d="M618.31 391.84H626.33L622.32 399.34Z" fill="none" stroke="#eda918" stroke-width="2.5" stroke-linejoin="miter"/>
<path d="M629.77 392.08H637.79L633.78 399.58Z" fill="none" stroke="#eda918" stroke-width="2.5" stroke-linejoin="miter"/>
<path d="M641.23 392.24H649.25L645.24 399.74Z" fill="none" stroke="#eda918" stroke-width="2.5" stroke-linejoin="miter"/>
<path d="M652.69 392.36H660.71L656.7 399.86Z" fill="none" stroke="#eda918" stroke-width="2.5" stroke-linejoin="miter"/>
<path d="M664.15 392.45H672.17L668.16 399.95Z" fill="none" stroke="#eda918" stroke-width="2.5" stroke-linejoin="miter"/>
<path d="M675.61 392.51H683.63L679.62 400.01Z" fill="none" stroke="#eda918" stroke-width="2.5" stroke-linejoin="miter"/>
<path d="M687.07 392.55H695.09L691.08 400.05Z" fill="none" stroke="#eda918" stroke-width="2.5" stroke-linejoin="miter"/>
</g>
<text class="tk" x="78" y="205.05">1.20</text>
<text class="tk" x="78" y="254.5">1.15</text>
<text class="tk" x="78" y="304.85">1.10</text>
<text class="tk" x="78" y="355.2">1.05</text>
<text class="tk" x="78" y="405.55">1.00</text>
<text class="pl" x="97" y="227.2">b</text>
<text class="yl" transform="translate(19 306.5) rotate(-90)">h</text>
<text class="sd" transform="translate(23.7 291.4) rotate(-90) scale(0.8 1)">D</text>
<line x1="512.6" y1="213.5" x2="550.7" y2="213.5" stroke="#5848a6" stroke-width="2.5"/>
<text class="lg" x="555.5" y="220.1"><tspan font-style="italic">x</tspan><tspan font-size="12" dy="4">D</tspan><tspan dy="-4">=0(</tspan><tspan class="cj" x="603.8">解析解</tspan><tspan dx="-2.4">)</tspan></text>
<line x1="512.6" y1="239.8" x2="550.7" y2="239.8" stroke="#f05c3a" stroke-width="2.5"/>
<text class="lg" x="555.5" y="245.9"><tspan font-style="italic">x</tspan><tspan font-size="12" dy="4">D</tspan><tspan dy="-4">=0.4(</tspan><tspan class="cj" x="620.9">解析解</tspan><tspan dx="-2.4">)</tspan></text>
<line x1="512.6" y1="266.1" x2="550.7" y2="266.1" stroke="#eda918" stroke-width="2.5"/>
<text class="lg" x="555.5" y="271.3"><tspan font-style="italic">x</tspan><tspan font-size="12" dy="4">D</tspan><tspan dy="-4">=0.8(</tspan><tspan class="cj" x="620.9">解析解</tspan><tspan dx="-2.4">)</tspan></text>
<path d="M527.59 289.95H535.61L531.6 297.45Z" fill="none" stroke="#5848a6" stroke-width="2.5" stroke-linejoin="miter"/>
<text class="lg" x="555.5" y="297.7"><tspan font-style="italic">x</tspan><tspan font-size="12" dy="4">D</tspan><tspan dy="-4">=0(</tspan><tspan class="cj" x="603.8">数值解</tspan><tspan dx="-2.4">)</tspan></text>
<path d="M527.59 316.25H535.61L531.6 323.75Z" fill="none" stroke="#f05c3a" stroke-width="2.5" stroke-linejoin="miter"/>
<text class="lg" x="555.5" y="322.9"><tspan font-style="italic">x</tspan><tspan font-size="12" dy="4">D</tspan><tspan dy="-4">=0.4(</tspan><tspan class="cj" x="620.9">数值解</tspan><tspan dx="-2.4">)</tspan></text>
<path d="M527.59 339.05H535.61L531.6 346.55Z" fill="none" stroke="#eda918" stroke-width="2.5" stroke-linejoin="miter"/>
<text class="lg" x="555.5" y="348.2"><tspan font-style="italic">x</tspan><tspan font-size="12" dy="4">D</tspan><tspan dy="-4">=0.8(</tspan><tspan class="cj" x="620.9">数值解</tspan><tspan dx="-2.4">)</tspan></text>
<g stroke="#000" stroke-width="1.9" fill="none" stroke-linecap="square">
<rect x="83.7" y="431.0" width="611.2" height="178.9"/>
</g>
<g stroke="#000" stroke-width="1.5" fill="none">
<line x1="236.5" y1="609.9" x2="236.5" y2="604.3"/>
<line x1="389.3" y1="609.9" x2="389.3" y2="604.3"/>
<line x1="542.1" y1="609.9" x2="542.1" y2="604.3"/>
<line x1="83.7" y1="475.73" x2="92.7" y2="475.73"/>
<line x1="83.7" y1="520.45" x2="92.7" y2="520.45"/>
<line x1="83.7" y1="565.17" x2="92.7" y2="565.17"/>
</g>
<path d="M83.7 609.9 L85.23 609.9 L86.76 609.9 L88.28 609.9 L89.81 609.9 L91.34 609.9 L92.87 609.9 L94.4 609.9 L95.92 609.9 L97.45 609.9 L98.98 609.9 L100.51 609.9 L102.04 609.9 L103.56 609.9 L105.09 609.9 L106.62 609.9 L108.15 609.9 L109.68 609.9 L111.2 609.9 L112.73 609.9 L114.26 609.9 L115.79 609.9 L117.32 609.9 L118.84 609.9 L120.37 609.9 L121.9 609.9 L123.43 609.9 L124.96 609.9 L126.48 609.9 L128.01 609.9 L129.54 609.9 L131.07 609.9 L132.6 609.9 L134.12 609.9 L135.65 609.9 L137.18 609.9 L138.71 609.9 L140.24 609.9 L141.76 609.9 L143.29 609.9 L144.82 609.9 L146.35 609.9 L147.88 609.9 L149.4 609.9 L150.93 609.9 L152.46 609.9 L153.99 609.9 L155.52 609.9 L157.04 609.9 L158.57 609.9 L160.1 609.9 L160.48 603.75 L160.86 601.19 L161.25 599.5 L161.63 598.04 L162.01 596.65 L162.39 595.32 L162.77 594.02 L163.16 592.76 L163.54 591.53 L163.92 590.33 L164.3 589.16 L164.68 588.02 L165.07 586.9 L165.45 585.81 L165.83 584.75 L166.21 583.7 L166.59 582.68 L166.98 581.68 L167.36 580.7 L167.74 579.74 L169.27 576.08 L170.8 572.68 L172.32 569.49 L173.85 566.49 L175.38 563.66 L176.91 560.98 L178.44 558.44 L179.96 556.02 L181.49 553.71 L183.02 551.51 L184.55 549.4 L186.08 547.38 L187.6 545.45 L189.13 543.61 L190.66 541.83 L192.19 540.13 L193.72 538.5 L195.24 536.94 L196.77 535.43 L198.3 533.99 L199.06 542 L199.83 544.47 L200.59 546.52 L201.36 548.42 L202.12 550.2 L202.88 551.88 L203.65 553.47 L204.41 554.97 L205.18 556.39 L205.94 557.75 L207.47 560.28 L209 562.6 L210.52 564.74 L212.05 566.74 L213.58 568.61 L215.11 570.36 L216.64 572.02 L218.16 573.58 L219.69 575.07 L221.22 576.49 L222.75 577.84 L224.28 579.13 L225.8 580.36 L227.33 581.54 L228.86 582.67 L230.39 583.75 L231.92 584.78 L233.44 585.78 L234.97 586.73 L236.5 587.65 L238.03 588.52 L239.56 589.37 L241.08 590.18 L242.61 590.95 L244.14 591.7 L245.67 592.42 L247.2 593.11 L248.72 593.77 L250.25 594.4 L251.78 595.01 L253.31 595.6 L254.84 596.16 L256.36 596.7 L257.89 597.22 L259.42 597.72 L260.95 598.2 L262.48 598.66 L264 599.1 L265.53 599.53 L267.06 599.94 L268.59 600.33 L270.12 600.71 L271.64 601.07 L273.17 601.41 L274.7 601.75 L276.23 602.07 L277.76 602.38 L279.28 602.67 L280.81 602.96 L282.34 603.23 L283.87 603.49 L285.4 603.75 L286.92 603.99 L288.45 604.22 L289.98 604.44 L291.51 604.66 L293.04 604.87 L294.56 605.06 L296.09 605.25 L297.62 605.44 L299.15 605.61 L300.68 605.78 L302.2 605.94 L303.73 606.1 L305.26 606.25 L306.79 606.39 L308.32 606.53 L309.84 606.66 L311.37 606.79 L312.9 606.91 L314.43 607.03 L315.96 607.14 L317.48 607.25 L319.01 607.36 L320.54 607.46 L322.07 607.55 L323.6 607.64 L325.12 607.73 L326.65 607.82 L328.18 607.9 L329.71 607.98 L331.24 608.05 L332.76 608.13 L334.29 608.2 L335.82 608.26 L337.35 608.33 L338.88 608.39 L340.4 608.45 L341.93 608.51 L343.46 608.56 L344.99 608.61 L346.52 608.66 L348.04 608.71 L349.57 608.76 L351.1 608.81 L352.63 608.85 L354.16 608.89 L355.68 608.93 L357.21 608.97 L358.74 609 L360.27 609.04 L361.8 609.07 L363.32 609.11 L364.85 609.14 L366.38 609.17 L367.91 609.2 L369.44 609.22 L370.96 609.25 L372.49 609.28 L374.02 609.3 L375.55 609.32 L377.08 609.35 L378.6 609.37 L380.13 609.39 L381.66 609.41 L383.19 609.43 L384.72 609.45 L386.24 609.47 L387.77 609.48 L389.3 609.5 L390.83 609.51 L392.36 609.53 L393.88 609.54 L395.41 609.56 L396.94 609.57 L398.47 609.58 L400 609.6 L401.52 609.61 L403.05 609.62 L404.58 609.63 L406.11 609.64 L407.64 609.65 L409.16 609.66 L410.69 609.67 L412.22 609.68 L413.75 609.69 L415.28 609.7 L416.8 609.71 L418.33 609.71 L419.86 609.72 L421.39 609.73 L422.92 609.73 L424.44 609.74 L425.97 609.75 L427.5 609.75 L427.88 597.45 L428.26 592.35 L428.65 588.96 L429.03 586.03 L429.41 583.27 L429.79 580.6 L430.17 578.01 L430.56 575.48 L430.94 573.02 L431.32 570.63 L431.7 568.29 L432.08 566.01 L432.47 563.78 L432.85 561.6 L433.23 559.47 L433.61 557.38 L433.99 555.34 L434.38 553.34 L434.76 551.39 L435.14 549.47 L436.67 542.15 L438.2 535.34 L439.72 528.97 L441.25 522.98 L442.78 517.33 L444.31 511.97 L445.84 506.89 L447.36 502.05 L448.89 497.44 L450.42 493.03 L451.95 488.82 L453.48 484.79 L455 480.94 L456.53 477.24 L458.06 473.7 L459.59 470.3 L461.12 467.04 L462.64 463.91 L464.17 460.91 L465.7 458.03 L466.46 474.04 L467.23 478.99 L467.99 483.08 L468.76 486.89 L469.52 490.45 L470.28 493.82 L471.05 496.99 L471.81 499.99 L472.58 502.84 L473.34 505.56 L474.87 510.62 L476.4 515.26 L477.92 519.55 L479.45 523.54 L480.98 527.28 L482.51 530.79 L484.04 534.1 L485.56 537.24 L487.09 540.21 L488.62 543.05 L490.15 545.75 L491.68 548.33 L493.2 550.79 L494.73 553.15 L496.26 555.41 L497.79 557.57 L499.32 559.64 L500.84 561.63 L502.37 563.54 L503.9 565.37 L505.43 567.13 L506.96 568.82 L508.48 570.44 L510.01 571.99 L511.54 573.49 L513.07 574.92 L514.6 576.3 L516.12 577.62 L517.65 578.89 L519.18 580.11 L520.71 581.29 L522.24 582.41 L523.76 583.49 L525.29 584.53 L526.82 585.53 L528.35 586.49 L529.88 587.41 L531.4 588.3 L532.93 589.15 L534.46 589.96 L535.99 590.75 L537.52 591.5 L539.04 592.23 L540.57 592.92 L542.1 593.59 L543.63 594.23 L545.16 594.85 L546.68 595.44 L548.21 596.01 L549.74 596.56 L551.27 597.08 L552.8 597.59 L554.32 598.07 L555.85 598.54 L557.38 598.98 L558.91 599.41 L560.44 599.83 L561.96 600.22 L563.49 600.6 L565.02 600.97 L566.55 601.32 L568.08 601.66 L569.6 601.98 L571.13 602.29 L572.66 602.59 L574.19 602.88 L575.72 603.16 L577.24 603.42 L578.77 603.68 L580.3 603.92 L581.83 604.16 L583.36 604.38 L584.88 604.6 L586.41 604.81 L587.94 605.01 L589.47 605.2 L591 605.39 L592.52 605.56 L594.05 605.74 L595.58 605.9 L597.11 606.06 L598.64 606.21 L600.16 606.35 L601.69 606.49 L603.22 606.63 L604.75 606.76 L606.28 606.88 L607.8 607 L609.33 607.11 L610.86 607.22 L612.39 607.33 L613.92 607.43 L615.44 607.53 L616.97 607.62 L618.5 607.71 L620.03 607.8 L621.56 607.88 L623.08 607.96 L624.61 608.03 L626.14 608.11 L627.67 608.18 L629.2 608.25 L630.72 608.31 L632.25 608.37 L633.78 608.43 L635.31 608.49 L636.84 608.55 L638.36 608.6 L639.89 608.65 L641.42 608.7 L642.95 608.75 L644.48 608.79 L646 608.84 L647.53 608.88 L649.06 608.92 L650.59 608.96 L652.12 608.99 L653.64 609.03 L655.17 609.06 L656.7 609.1 L658.23 609.13 L659.76 609.16 L661.28 609.19 L662.81 609.22 L664.34 609.24 L665.87 609.27 L667.4 609.29 L668.92 609.32 L670.45 609.34 L671.98 609.36 L673.51 609.38 L675.04 609.4 L676.56 609.42 L678.09 609.44 L679.62 609.46 L681.15 609.48 L682.68 609.49 L684.2 609.51 L685.73 609.53 L687.26 609.54 L688.79 609.55 L690.32 609.57 L691.84 609.58 L693.37 609.59 L694.9 609.61" fill="none" stroke="#5848a6" stroke-width="2.4" stroke-linejoin="round"/>
<g>
<path d="M79.69 607.25H87.71L83.7 614.75Z" fill="none" stroke="#5848a6" stroke-width="2.5" stroke-linejoin="miter"/>
<path d="M88.85 607.25H96.88L92.87 614.75Z" fill="none" stroke="#5848a6" stroke-width="2.5" stroke-linejoin="miter"/>
<path d="M98.02 607.25H106.05L102.04 614.75Z" fill="none" stroke="#5848a6" stroke-width="2.5" stroke-linejoin="miter"/>
<path d="M107.19 607.25H115.22L111.2 614.75Z" fill="none" stroke="#5848a6" stroke-width="2.5" stroke-linejoin="miter"/>
<path d="M116.36 607.25H124.39L120.37 614.75Z" fill="none" stroke="#5848a6" stroke-width="2.5" stroke-linejoin="miter"/>
<path d="M125.53 607.25H133.55L129.54 614.75Z" fill="none" stroke="#5848a6" stroke-width="2.5" stroke-linejoin="miter"/>
<path d="M134.69 607.25H142.72L138.71 614.75Z" fill="none" stroke="#5848a6" stroke-width="2.5" stroke-linejoin="miter"/>
<path d="M143.86 607.25H151.89L147.88 614.75Z" fill="none" stroke="#5848a6" stroke-width="2.5" stroke-linejoin="miter"/>
<path d="M153.03 607.25H161.06L157.04 614.75Z" fill="none" stroke="#5848a6" stroke-width="2.5" stroke-linejoin="miter"/>
<path d="M162.2 581.05H170.23L166.21 588.55Z" fill="none" stroke="#5848a6" stroke-width="2.5" stroke-linejoin="miter"/>
<path d="M171.37 561.01H179.39L175.38 568.51Z" fill="none" stroke="#5848a6" stroke-width="2.5" stroke-linejoin="miter"/>
<path d="M180.53 546.75H188.56L184.55 554.25Z" fill="none" stroke="#5848a6" stroke-width="2.5" stroke-linejoin="miter"/>
<path d="M189.7 535.85H197.73L193.72 543.35Z" fill="none" stroke="#5848a6" stroke-width="2.5" stroke-linejoin="miter"/>
<path d="M198.87 549.23H206.9L202.88 556.73Z" fill="none" stroke="#5848a6" stroke-width="2.5" stroke-linejoin="miter"/>
<path d="M208.04 564.09H216.07L212.05 571.59Z" fill="none" stroke="#5848a6" stroke-width="2.5" stroke-linejoin="miter"/>
<path d="M217.21 573.84H225.23L221.22 581.34Z" fill="none" stroke="#5848a6" stroke-width="2.5" stroke-linejoin="miter"/>
<path d="M226.37 581.1H234.4L230.39 588.6Z" fill="none" stroke="#5848a6" stroke-width="2.5" stroke-linejoin="miter"/>
<path d="M235.54 586.72H243.57L239.56 594.22Z" fill="none" stroke="#5848a6" stroke-width="2.5" stroke-linejoin="miter"/>
<path d="M244.71 591.12H252.74L248.72 598.62Z" fill="none" stroke="#5848a6" stroke-width="2.5" stroke-linejoin="miter"/>
<path d="M253.88 594.57H261.91L257.89 602.07Z" fill="none" stroke="#5848a6" stroke-width="2.5" stroke-linejoin="miter"/>
<path d="M263.05 597.29H271.07L267.06 604.79Z" fill="none" stroke="#5848a6" stroke-width="2.5" stroke-linejoin="miter"/>
<path d="M272.21 599.42H280.24L276.23 606.92Z" fill="none" stroke="#5848a6" stroke-width="2.5" stroke-linejoin="miter"/>
<path d="M281.38 601.1H289.41L285.4 608.6Z" fill="none" stroke="#5848a6" stroke-width="2.5" stroke-linejoin="miter"/>
<path d="M290.55 602.41H298.58L294.56 609.91Z" fill="none" stroke="#5848a6" stroke-width="2.5" stroke-linejoin="miter"/>
<path d="M299.72 603.45H307.75L303.73 610.95Z" fill="none" stroke="#5848a6" stroke-width="2.5" stroke-linejoin="miter"/>
<path d="M308.89 604.26H316.91L312.9 611.76Z" fill="none" stroke="#5848a6" stroke-width="2.5" stroke-linejoin="miter"/>
<path d="M318.05 604.9H326.08L322.07 612.4Z" fill="none" stroke="#5848a6" stroke-width="2.5" stroke-linejoin="miter"/>
<path d="M327.22 605.4H335.25L331.24 612.91Z" fill="none" stroke="#5848a6" stroke-width="2.5" stroke-linejoin="miter"/>
<path d="M336.39 605.8H344.42L340.4 613.3Z" fill="none" stroke="#5848a6" stroke-width="2.5" stroke-linejoin="miter"/>
<path d="M345.56 606.11H353.59L349.57 613.61Z" fill="none" stroke="#5848a6" stroke-width="2.5" stroke-linejoin="miter"/>
<path d="M354.73 606.35H362.75L358.74 613.85Z" fill="none" stroke="#5848a6" stroke-width="2.5" stroke-linejoin="miter"/>
<path d="M363.89 606.55H371.92L367.91 614.05Z" fill="none" stroke="#5848a6" stroke-width="2.5" stroke-linejoin="miter"/>
<path d="M373.06 606.7H381.09L377.08 614.2Z" fill="none" stroke="#5848a6" stroke-width="2.5" stroke-linejoin="miter"/>
<path d="M382.23 606.82H390.26L386.24 614.32Z" fill="none" stroke="#5848a6" stroke-width="2.5" stroke-linejoin="miter"/>
<path d="M391.4 606.91H399.43L395.41 614.41Z" fill="none" stroke="#5848a6" stroke-width="2.5" stroke-linejoin="miter"/>
<path d="M400.57 606.98H408.59L404.58 614.48Z" fill="none" stroke="#5848a6" stroke-width="2.5" stroke-linejoin="miter"/>
<path d="M409.73 607.04H417.76L413.75 614.54Z" fill="none" stroke="#5848a6" stroke-width="2.5" stroke-linejoin="miter"/>
<path d="M418.9 607.08H426.93L422.92 614.58Z" fill="none" stroke="#5848a6" stroke-width="2.5" stroke-linejoin="miter"/>
<path d="M428.07 563.36H436.1L432.08 570.86Z" fill="none" stroke="#5848a6" stroke-width="2.5" stroke-linejoin="miter"/>
<path d="M437.24 520.33H445.27L441.25 527.83Z" fill="none" stroke="#5848a6" stroke-width="2.5" stroke-linejoin="miter"/>
<path d="M446.41 490.38H454.43L450.42 497.88Z" fill="none" stroke="#5848a6" stroke-width="2.5" stroke-linejoin="miter"/>
<path d="M455.57 467.65H463.6L459.59 475.15Z" fill="none" stroke="#5848a6" stroke-width="2.5" stroke-linejoin="miter"/>
<path d="M464.74 484.24H472.77L468.76 491.74Z" fill="none" stroke="#5848a6" stroke-width="2.5" stroke-linejoin="miter"/>
<path d="M473.91 516.9H481.94L477.92 524.4Z" fill="none" stroke="#5848a6" stroke-width="2.5" stroke-linejoin="miter"/>
<path d="M483.08 537.56H491.11L487.09 545.06Z" fill="none" stroke="#5848a6" stroke-width="2.5" stroke-linejoin="miter"/>
<path d="M492.25 552.76H500.27L496.26 560.26Z" fill="none" stroke="#5848a6" stroke-width="2.5" stroke-linejoin="miter"/>
<path d="M501.41 564.48H509.44L505.43 571.98Z" fill="none" stroke="#5848a6" stroke-width="2.5" stroke-linejoin="miter"/>
<path d="M510.58 573.65H518.61L514.6 581.15Z" fill="none" stroke="#5848a6" stroke-width="2.5" stroke-linejoin="miter"/>
<path d="M519.75 580.84H527.78L523.76 588.34Z" fill="none" stroke="#5848a6" stroke-width="2.5" stroke-linejoin="miter"/>
<path d="M528.92 586.5H536.95L532.93 594Z" fill="none" stroke="#5848a6" stroke-width="2.5" stroke-linejoin="miter"/>
<path d="M538.09 590.94H546.11L542.1 598.44Z" fill="none" stroke="#5848a6" stroke-width="2.5" stroke-linejoin="miter"/>
<path d="M547.25 594.43H555.28L551.27 601.93Z" fill="none" stroke="#5848a6" stroke-width="2.5" stroke-linejoin="miter"/>
<path d="M556.42 597.18H564.45L560.44 604.68Z" fill="none" stroke="#5848a6" stroke-width="2.5" stroke-linejoin="miter"/>
<path d="M565.59 599.33H573.62L569.6 606.83Z" fill="none" stroke="#5848a6" stroke-width="2.5" stroke-linejoin="miter"/>
<path d="M574.76 601.03H582.79L578.77 608.53Z" fill="none" stroke="#5848a6" stroke-width="2.5" stroke-linejoin="miter"/>
<path d="M583.93 602.36H591.95L587.94 609.86Z" fill="none" stroke="#5848a6" stroke-width="2.5" stroke-linejoin="miter"/>
<path d="M593.09 603.41H601.12L597.11 610.91Z" fill="none" stroke="#5848a6" stroke-width="2.5" stroke-linejoin="miter"/>
<path d="M602.26 604.23H610.29L606.28 611.73Z" fill="none" stroke="#5848a6" stroke-width="2.5" stroke-linejoin="miter"/>
<path d="M611.43 604.88H619.46L615.44 612.38Z" fill="none" stroke="#5848a6" stroke-width="2.5" stroke-linejoin="miter"/>
<path d="M620.6 605.38H628.63L624.61 612.88Z" fill="none" stroke="#5848a6" stroke-width="2.5" stroke-linejoin="miter"/>
<path d="M629.77 605.78H637.79L633.78 613.28Z" fill="none" stroke="#5848a6" stroke-width="2.5" stroke-linejoin="miter"/>
<path d="M638.93 606.1H646.96L642.95 613.6Z" fill="none" stroke="#5848a6" stroke-width="2.5" stroke-linejoin="miter"/>
<path d="M648.1 606.34H656.13L652.12 613.84Z" fill="none" stroke="#5848a6" stroke-width="2.5" stroke-linejoin="miter"/>
<path d="M657.27 606.54H665.3L661.28 614.04Z" fill="none" stroke="#5848a6" stroke-width="2.5" stroke-linejoin="miter"/>
<path d="M666.44 606.69H674.47L670.45 614.19Z" fill="none" stroke="#5848a6" stroke-width="2.5" stroke-linejoin="miter"/>
<path d="M675.61 606.81H683.63L679.62 614.31Z" fill="none" stroke="#5848a6" stroke-width="2.5" stroke-linejoin="miter"/>
<path d="M684.77 606.9H692.8L688.79 614.4Z" fill="none" stroke="#5848a6" stroke-width="2.5" stroke-linejoin="miter"/>
</g>
<text class="tk" x="78" y="440.95">0.8</text>
<text class="tk" x="78" y="485.68">0.6</text>
<text class="tk" x="78" y="530.4">0.4</text>
<text class="tk" x="78" y="575.12">0.2</text>
<text class="tk" x="78" y="619.85">0</text>
<text class="pl" x="97" y="457.4">c</text>
<text class="yl" transform="translate(24.2 535.6) rotate(-90)" style="font-size:27.5px">Q</text>
<text class="sd" transform="translate(29 514.1) rotate(-90) scale(0.78 1)">D</text>
<line x1="500" y1="457.1" x2="538.2" y2="457.1" stroke="#5848a6" stroke-width="2.6"/>
<path d="M514.99 485.85H523.01L519 493.35Z" fill="none" stroke="#5848a6" stroke-width="2.5" stroke-linejoin="miter"/>
<text class="lc" y="465.9"><tspan class="cc" x="541.3" style="letter-spacing:1.4px">基流</tspan><tspan class="pp" x="593.2" dy="-1">(</tspan><tspan class="cc" x="601.5" dy="1" style="letter-spacing:1.8px">解析解</tspan><tspan class="pp" x="677.6" dy="-1">)</tspan></text>
<text class="lc" y="498.2"><tspan class="cc" x="541.3" style="letter-spacing:1.4px">基流</tspan><tspan class="pp" x="593.2" dy="-1">(</tspan><tspan class="cc" x="601.5" dy="1" style="letter-spacing:1.8px">数值解</tspan><tspan class="pp" x="677.6" dy="-1">)</tspan></text>
<text class="xt" x="236.5" y="641.15">2</text>
<text class="xt" x="389.3" y="641.15">4</text>
<text class="xt" x="542.1" y="641.15">6</text>
<text class="xt" x="695.66" y="641.15">8</text>
<text class="pl" y="671"><tspan class="cc" x="351.9">时</tspan><tspan class="cc" x="377.5">间</tspan><tspan font-style="italic" x="405.8">t</tspan><tspan font-size="13" x="413.3" dy="6.2">D</tspan></text>
</svg></body></html>
